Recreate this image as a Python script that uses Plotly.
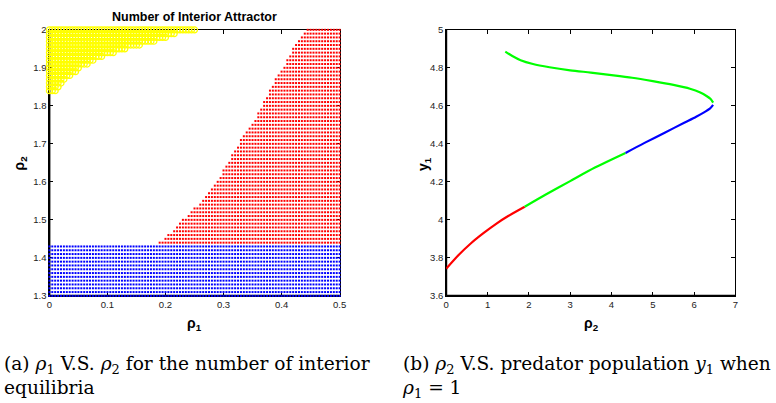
import plotly.graph_objects as go

W, H = 776, 403

# ---------------- Left panel data (grid of parameter points) ----------------
rho1_step = 0.005
rho1_cols = [round(i * rho1_step, 3) for i in range(101)]          # 0 .. 0.5
blue_rows = [round(1.30 + 0.01 * i, 2) for i in range(14)]         # 1.30 .. 1.43
red_rows = [round(1.44 + 0.01 * i, 2) for i in range(57)]          # 1.44 .. 2.00
red_start = [0.19, 0.20, 0.205, 0.215, 0.22, 0.225, 0.23, 0.24, 0.245, 0.25,
             0.26, 0.265, 0.27, 0.275, 0.28, 0.285, 0.29, 0.295, 0.30, 0.30,
             0.305, 0.31, 0.315, 0.315, 0.32, 0.325, 0.33, 0.33, 0.335, 0.34,
             0.345, 0.35, 0.355, 0.36, 0.36, 0.365, 0.37, 0.37, 0.375, 0.38,
             0.38, 0.385, 0.39, 0.39, 0.395, 0.40, 0.405, 0.41, 0.41, 0.415,
             0.42, 0.42, 0.425, 0.43, 0.435, 0.44, 0.445]
yellow_rows = [round(1.84 + 0.01 * i, 2) for i in range(17)]       # 1.84 .. 2.00
yellow_end = [0.01, 0.015, 0.02, 0.025, 0.035, 0.045, 0.05, 0.065, 0.075,
              0.09, 0.11, 0.13, 0.155, 0.18, 0.20, 0.215, 0.25]

# ---------------- Right panel data (branches of y1 vs rho2) ----------------
red_x = [0.0, 0.3, 0.6, 0.9, 1.2, 1.5, 1.9]
red_y = [3.743, 3.815, 3.877, 3.930, 3.978, 4.020, 4.069]
green1_x = [1.9, 2.4, 3.0, 3.6, 4.34]
green1_y = [4.069, 4.132, 4.204, 4.275, 4.352]
blue_x = [4.34, 4.8, 5.3, 5.76, 6.05, 6.25, 6.38, 6.46]
blue_y = [4.352, 4.405, 4.460, 4.511, 4.543, 4.567, 4.585, 4.605]
green2_x = [6.46, 6.40, 6.30, 6.15, 5.9, 5.5, 5.0, 4.5, 4.0, 3.5, 3.0, 2.5, 2.1, 1.8, 1.6, 1.43]
green2_y = [4.617, 4.636, 4.652, 4.670, 4.690, 4.710, 4.730, 4.748, 4.762, 4.775,
            4.787, 4.803, 4.820, 4.840, 4.862, 4.885]

left_xticks = [0, 0.1, 0.2, 0.3, 0.4, 0.5]
left_xticklabels = ["0", "0.1", "0.2", "0.3", "0.4", "0.5"]
left_yticks = [1.3, 1.4, 1.5, 1.6, 1.7, 1.8, 1.9, 2.0]
left_yticklabels = ["1.3", "1.4", "1.5", "1.6", "1.7", "1.8", "1.9", "2"]
right_xticks = [0, 1, 2, 3, 4, 5, 6, 7]
right_xticklabels = ["0", "1", "2", "3", "4", "5", "6", "7"]
right_yticks = [3.6, 3.8, 4.0, 4.2, 4.4, 4.6, 4.8, 5.0]
right_yticklabels = ["3.6", "3.8", "4", "4.2", "4.4", "4.6", "4.8", "5"]

# build grid point lists
bx, by = [], []
for r in blue_rows:
    for c in rho1_cols:
        bx.append(c); by.append(r)
rx, ry = [], []
for r, s in zip(red_rows, red_start):
    for c in rho1_cols:
        if c >= s - 1e-9:
            rx.append(c); ry.append(r)
yx, yy = [], []
for r, e in zip(yellow_rows, yellow_end):
    for c in rho1_cols:
        if c <= e + 1e-9:
            yx.append(c); yy.append(r)

fig = go.Figure()
fig.add_trace(go.Scatter(x=bx, y=by, mode="markers", xaxis="x", yaxis="y",
                         marker=dict(symbol="square", size=2, color="#0000ff", line=dict(width=0)),
                         cliponaxis=False, showlegend=False, hoverinfo="skip"))
fig.add_trace(go.Scatter(x=rx, y=ry, mode="markers", xaxis="x", yaxis="y",
                         marker=dict(symbol="square", size=2, color="#ff0000", line=dict(width=0)),
                         cliponaxis=False, showlegend=False, hoverinfo="skip"))
fig.add_trace(go.Scatter(x=yx, y=yy, mode="markers", xaxis="x", yaxis="y",
                         marker=dict(symbol="circle-open", size=6, color="#ffff00",
                                     line=dict(width=1.2, color="#ffff00")),
                         cliponaxis=False, showlegend=False, hoverinfo="skip"))

for xs, ys, col in [(red_x, red_y, "#ff0000"), (green1_x, green1_y, "#00ff00"),
                    (blue_x, blue_y, "#0000ff"), (green2_x, green2_y, "#00ff00")]:
    fig.add_trace(go.Scatter(x=xs, y=ys, mode="lines", xaxis="x2", yaxis="y2",
                             line=dict(color=col, width=2.2, shape="spline", smoothing=0.8),
                             showlegend=False, hoverinfo="skip"))

ydom = [1 - 298 / H, 1 - 24.5 / H]
tickfont = dict(family="Liberation Sans, Arial, sans-serif", size=9.5, color="#222222")
common = dict(showgrid=False, zeroline=False, showline=True, linecolor="black", linewidth=1,
              mirror="ticks", ticks="inside", ticklen=4, tickwidth=1, tickcolor="black",
              tickfont=tickfont, fixedrange=True)

fig.update_layout(
    width=W, height=H, margin=dict(l=0, r=0, t=0, b=0),
    paper_bgcolor="white", plot_bgcolor="white",
    xaxis=dict(domain=[47 / W, 341 / W], range=[0, 0.5], tickvals=left_xticks,
               ticktext=left_xticklabels, anchor="y", layer="below traces", **common),
    yaxis=dict(domain=ydom, range=[1.3, 2.0], tickvals=left_yticks,
               ticktext=left_yticklabels, anchor="x", layer="below traces", **common),
    xaxis2=dict(domain=[449 / W, 742 / W], range=[0, 7], tickvals=right_xticks,
                ticktext=right_xticklabels, anchor="y2", **common),
    yaxis2=dict(domain=ydom, range=[3.6, 5.0], tickvals=right_yticks,
                ticktext=right_yticklabels, anchor="x2", **common),
)

# thicker left/bottom axis lines (as in reference)
shapes = []
for xr, yr in [("x domain", "y domain"), ("x2 domain", "y2 domain")]:
    shapes.append(dict(type="line", xref=xr, yref=yr, x0=0, x1=0, y0=0, y1=1,
                       line=dict(color="black", width=2), layer="below"))
    shapes.append(dict(type="line", xref=xr, yref=yr, x0=0, x1=1, y0=0, y1=0,
                       line=dict(color="black", width=2), layer="below"))
fig.update_layout(shapes=shapes)

def px(x):
    return x / W

def py(y):
    return 1 - y / H

ann = []
ann.append(dict(text="<b>Number of Interior Attractor</b>", x=px(194), y=py(11),
                xref="paper", yref="paper", showarrow=False, xanchor="center", yanchor="middle",
                font=dict(family="Liberation Sans, Arial, sans-serif", size=12.5, color="black")))
axfont = dict(family="Liberation Sans, Arial, sans-serif", size=14, color="black")
ann.append(dict(text="<b>ρ<sub>1</sub></b>", x=px(194), y=py(327), xref="paper", yref="paper",
                showarrow=False, xanchor="center", yanchor="middle", font=axfont))
ann.append(dict(text="<b>ρ<sub>2</sub></b>", x=px(596), y=py(327), xref="paper", yref="paper",
                showarrow=False, xanchor="center", yanchor="middle", font=axfont))
ann.append(dict(text="<b>ρ<sub>2</sub></b>", x=px(17), y=py(161), xref="paper", yref="paper",
                showarrow=False, xanchor="center", yanchor="middle", textangle=-90, font=axfont))
ann.append(dict(text="<b>y<sub>1</sub></b>", x=px(426), y=py(163), xref="paper", yref="paper",
                showarrow=False, xanchor="center", yanchor="middle", textangle=-90, font=axfont))

capfont = dict(family="DejaVu Serif, serif", size=18.6, color="black")
ann.append(dict(text="(a) <i>ρ</i><sub>1</sub> V.S. <i>ρ</i><sub>2</sub> for the number of interior"
                     "<br>equilibria",
                x=px(-1), y=py(355), xref="paper", yref="paper", showarrow=False,
                xanchor="left", yanchor="top", align="left", font=capfont))
ann.append(dict(text="(b) <i>ρ</i><sub>2</sub> V.S. predator population <i>y</i><sub>1</sub> when"
                     "<br><i>ρ</i><sub>1</sub> = 1",
                x=px(402), y=py(355), xref="paper", yref="paper", showarrow=False,
                xanchor="left", yanchor="top", align="left", font=capfont))
fig.update_layout(annotations=ann)

fig.write_html("out.html")
